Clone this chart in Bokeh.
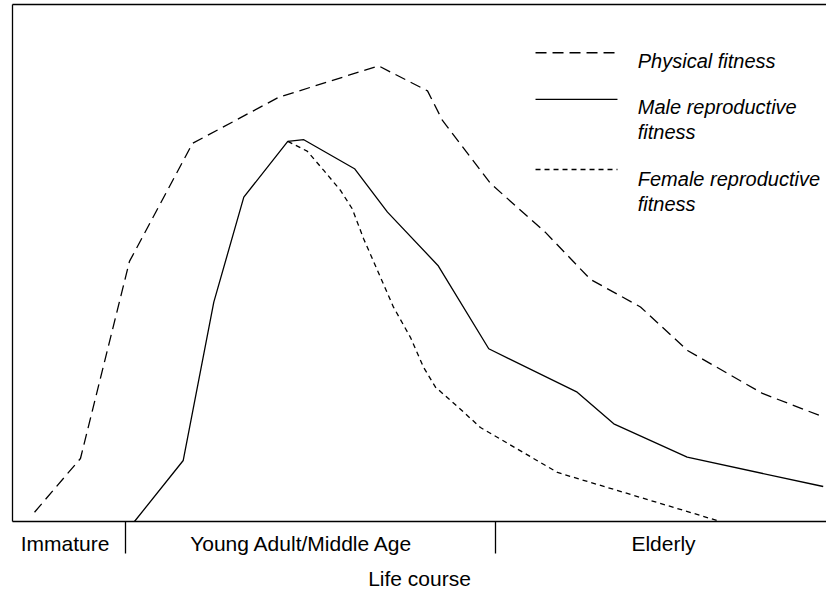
from bokeh.plotting import figure
from bokeh.models import Range1d, FixedTicker, LinearAxis
from bokeh.core.properties import value
from bokeh.embed import file_html
from bokeh.resources import INLINE

# ---- data (life course position, fitness 0-100) ----
stages = ["Immature", "Young Adult/Middle Age", "Elderly"]
stage_label_x = [6.4, 35.2, 79.2]
stage_bounds = [13.75, 58.76]
x_title = "Life course"

phys_x = [2.68, 8.27, 14.23, 21.90, 32.36, 44.53, 50.49, 52.31, 58.15, 64.84, 70.32, 76.40, 82.12, 91.24, 98.66]
phys_y = [1.80, 12.21, 50.39, 73.26, 82.17, 88.28, 83.43, 77.71, 65.50, 56.01, 46.90, 41.57, 33.14, 24.81, 20.25]

male_x = [14.84, 20.77, 24.49, 28.14, 33.49, 35.44, 41.61, 45.62, 51.76, 57.94, 68.70, 73.15, 82.08, 98.63]
male_y = [0.0, 11.82, 42.50, 62.85, 73.64, 73.97, 68.35, 59.94, 49.61, 33.47, 25.06, 18.93, 12.46, 6.78]

fem_x = [33.49, 35.85, 37.87, 39.90, 41.33, 42.70, 44.40, 46.35, 48.42, 50.00, 51.46, 54.26, 56.93, 66.30, 86.13]
fem_y = [73.64, 71.76, 68.02, 64.15, 60.60, 54.84, 48.64, 41.53, 35.66, 29.90, 26.03, 22.09, 18.22, 9.50, 0.0]

series_names = [["Physical fitness"], ["Male reproductive", "fitness"], ["Female reproductive", "fitness"]]
series_dash = ["11 6", "solid", "5 4"]

# ---- layout of the hand-drawn key (in plot units) ----
key_x0, key_x1, key_text_x = 63.63, 73.60, 76.07
key_line_y = [90.82, 81.77, 68.20]
key_text_y = [[89.19], [80.28, 75.43], [66.40, 61.56]]

FONT = "Liberation Sans"

p = figure(width=826, height=592, x_range=Range1d(0, 99.03), y_range=Range1d(0, 100.17),
           output_backend="svg", toolbar_location=None, title=None,
           min_border_left=12, min_border_right=0, min_border_top=4, min_border_bottom=71)
p.outline_line_color = None
p.xgrid.visible = False
p.ygrid.visible = False
p.background_fill_color = "white"
p.border_fill_color = "white"

# bottom axis: stage labels at centres, stage boundaries as minor ticks
xa = p.xaxis[0]
xa.ticker = FixedTicker(ticks=stage_label_x, minor_ticks=stage_bounds)
xa.major_label_overrides = {x: s for x, s in zip(stage_label_x, stages)}
xa.major_tick_line_color = None
xa.major_tick_out = 0
xa.major_tick_in = 0
xa.minor_tick_out = 32
xa.minor_tick_in = 0
xa.minor_tick_line_color = "black"
xa.minor_tick_line_width = 1.3
xa.axis_line_color = "black"
xa.axis_line_width = 1.3
xa.major_label_text_font = FONT
xa.major_label_text_font_size = "21px"
xa.major_label_text_color = "black"
xa.major_label_standoff = -22
xa.axis_label = x_title
xa.axis_label_text_font = FONT
xa.axis_label_text_font_size = "21px"
xa.axis_label_text_font_style = "normal"
xa.axis_label_text_color = "black"
xa.axis_label_standoff = 9

# left axis: line only
ya = p.yaxis[0]
ya.ticker = FixedTicker(ticks=[])
ya.major_tick_out = 0
ya.major_tick_in = 0
ya.minor_tick_out = 0
ya.minor_tick_in = 0
ya.major_label_text_font_size = "0px"
ya.axis_line_color = "black"
ya.axis_line_width = 1.3

# top axis: line only
top = LinearAxis(ticker=FixedTicker(ticks=[]), major_tick_out=0, major_tick_in=0,
                 minor_tick_out=0, minor_tick_in=0, major_label_text_font_size="0px",
                 axis_line_color="black", axis_line_width=1.3)
p.add_layout(top, "above")

for xs, ys, dash in [(phys_x, phys_y, series_dash[0]),
                     (male_x, male_y, series_dash[1]),
                     (fem_x, fem_y, series_dash[2])]:
    p.line(xs, ys, line_color="black", line_width=1.3, line_dash=dash)

# key
for i in range(3):
    p.line([key_x0, key_x1], [key_line_y[i], key_line_y[i]], line_color="black",
           line_width=1.3, line_dash=series_dash[i])
    for txt, ty in zip(series_names[i], key_text_y[i]):
        p.text(x=[key_text_x], y=[ty], text=[txt], text_font=value(FONT),
               text_font_size="20px", text_font_style="italic", text_color="black",
               text_baseline="alphabetic", text_align="left")

open("out.html", "w").write(file_html(p, INLINE))
